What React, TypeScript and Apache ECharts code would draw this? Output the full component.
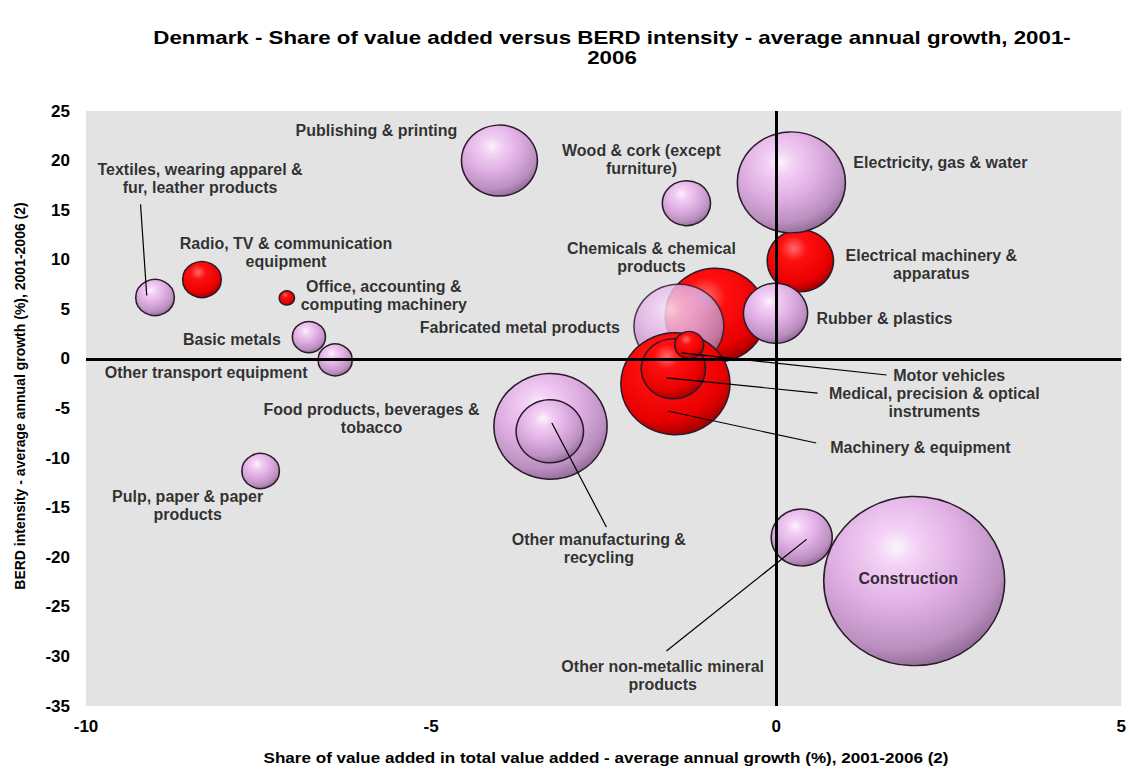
import React, { useEffect, useRef } from "react";
import * as echarts from "echarts";

// ---- Data (drawing order: later items drawn on top) ----
const sectors = [
  "Textiles, wearing apparel &\nfur, leather products",
  "Radio, TV & communication\nequipment",
  "Office, accounting &\ncomputing machinery",
  "Basic metals",
  "Other transport equipment",
  "Publishing & printing",
  "Wood & cork (except\nfurniture)",
  "Chemicals & chemical\nproducts",
  "Electrical machinery &\napparatus",
  "Electricity, gas & water",
  "Rubber & plastics",
  "Fabricated metal products",
  "Machinery & equipment",
  "Medical, precision & optical\ninstruments",
  "Motor vehicles",
  "Food products, beverages &\ntobacco",
  "Other manufacturing &\nrecycling",
  "Pulp, paper & paper\nproducts",
  "Other non-metallic mineral\nproducts",
  "Construction",
];
const valueAddedGrowth = [
  -9.0, -8.32, -7.09, -6.77, -6.39, -4.01, -1.3, -0.88, 0.35, 0.22,
  -0.01, -1.41, -1.46, -1.49, -1.26, -3.27, -3.28, -7.47, 0.37, 2.0,
];
const berdGrowth = [
  6.2, 8.0, 6.15, 2.2, -0.1, 20.0, 15.7, 4.4, 9.9, 17.8,
  4.6, 3.3, -2.5, -1.0, 1.4, -6.8, -7.3, -11.3, -18.0, -22.4,
];
const bubbleSizes = [
  13, 13, 2, 9.6, 10.2, 50.4, 20.3, 88.4, 38.4, 102,
  36, 70.6, 104, 36, 7.3, 112, 39.7, 12.3, 32.5, 286,
];
// "high" = high-technology groups shown in red, "other" in pink
const techGroup = [
  "other", "high", "high", "other", "other", "other", "other", "high", "high", "other",
  "other", "other", "high", "high", "high", "other", "other", "other", "other", "other",
];
const xTicks = [-10, -5, 0, 5];
const yTicks = [-35, -30, -25, -20, -15, -10, -5, 0, 5, 10, 15, 20, 25];

// leader lines: [from sector point area, to label] in data coordinates
const leaderLines: [number, number][][] = [
  [[-9.12, 6.4], [-9.21, 15.6]],
  [[-1.37, 0.6], [1.6, -1.62]],
  [[-1.59, -1.92], [0.6, -3.44]],
  [[-1.57, -5.25], [0.58, -8.48]],
  [[-3.25, -6.46], [-2.46, -16.95]],
  [[0.44, -18.2], [-1.59, -29.45]],
];

// ---- Layout (label offsets in px from the bubble centre) ----
const labelOffsets: [number, number][] = [
  [45, -119], [84, -27], [97, -2], [-77, 2], [-129, 13], [-123, -30], [-45, -44],
  [-64, -58], [131, 4], [149, -20], [109, 5], [-159, 1], [245, 64], [261, 34],
  [260, 30], [-179, -8], [49, 117], [-73, 35], [-139, 138], [-6, -3],
];
const ASPECT = 1.07; // bubbles are slightly wider than tall in the original

const FONT = "Arial, 'Liberation Sans', sans-serif";

const pinkFill = {
  type: "radial", x: 0.4, y: 0.3, r: 0.8, global: false,
  colorStops: [
    { offset: 0, color: "#fbf4fb" },
    { offset: 0.15, color: "#f3d0f5" },
    { offset: 0.45, color: "#dfaee3" },
    { offset: 0.75, color: "#bb8fc0" },
    { offset: 0.92, color: "#8d6792" },
    { offset: 1, color: "#4a344d" },
  ],
};
const redFill = {
  type: "radial", x: 0.4, y: 0.3, r: 0.8, global: false,
  colorStops: [
    { offset: 0, color: "#ff6a6a" },
    { offset: 0.25, color: "#ff1010" },
    { offset: 0.7, color: "#e80000" },
    { offset: 0.9, color: "#a00000" },
    { offset: 1, color: "#500000" },
  ],
};

export default function App() {
  const ref = useRef<HTMLDivElement>(null);
  useEffect(() => {
    if (!ref.current) return;
    const chart = echarts.init(ref.current, undefined, { renderer: "svg" });
    const bubbleData = sectors.map((name, i) => ({
      name,
      value: [valueAddedGrowth[i], berdGrowth[i], bubbleSizes[i]],
      itemStyle: {
        color: techGroup[i] === "high" ? redFill : pinkFill,
        opacity: name === "Fabricated metal products" ? 0.82 : 1,
      },
    }));
    const labelData = sectors.map((name, i) => ({
      name,
      value: [valueAddedGrowth[i], berdGrowth[i]],
      label: { offset: labelOffsets[i] },
    }));
    chart.setOption({
      animation: false,
      backgroundColor: "#ffffff",
      grid: {
        left: 86, right: 7, top: 111, bottom: 63,
        show: true, backgroundColor: "#e3e3e3", borderWidth: 0,
      },
      xAxis: {
        type: "value", min: xTicks[0], max: xTicks[xTicks.length - 1], interval: 5,
        axisLine: { show: false }, axisTick: { show: false }, splitLine: { show: false },
        axisLabel: { fontSize: 17, fontWeight: "bold", color: "#000", margin: 12, fontFamily: FONT },
      },
      yAxis: {
        type: "value", min: yTicks[0], max: yTicks[yTicks.length - 1], interval: 5,
        axisLine: { show: false }, axisTick: { show: false }, splitLine: { show: false },
        axisLabel: { fontSize: 17, fontWeight: "bold", color: "#000", margin: 16, fontFamily: FONT },
      },
      graphic: [
        {
          type: "text", x: 612, y: 48, z: 10, scaleX: 1.24,
          style: {
            text: "Denmark - Share of value added versus BERD intensity - average annual growth, 2001-\n2006",
            textAlign: "center", textVerticalAlign: "middle",
            font: `bold 18px ${FONT}`, lineHeight: 20, fill: "#000",
          },
        },
        {
          type: "text", x: 606, y: 758, z: 10, scaleX: 1.22,
          style: {
            text: "Share of value added in total value added - average annual growth (%), 2001-2006 (2)",
            textAlign: "center", textVerticalAlign: "middle",
            font: `bold 14px ${FONT}`, fill: "#000",
          },
        },
        {
          type: "text", x: 20, y: 396, rotation: Math.PI / 2, z: 10,
          style: {
            text: "BERD intensity - average annual growth (%), 2001-2006 (2)",
            textAlign: "center", textVerticalAlign: "middle",
            font: `bold 14px ${FONT}`, fill: "#000",
          },
        },
      ],
      series: [
        {
          type: "scatter", z: 1, symbolSize: 0, data: [[0, 0]], silent: true,
          markLine: {
            silent: true, symbol: ["none", "none"], label: { show: false },
            lineStyle: { color: "#000", width: 3, type: "solid" },
            data: [{ xAxis: 0 }, { yAxis: 0 }],
          },
        },
        {
          type: "scatter", z: 3,
          symbolSize: (v: number[]) => {
            const d = 10 * Math.sqrt(v[2]);
            return [d * ASPECT, d];
          },
          itemStyle: { borderColor: "#2a1a2a", borderWidth: 1.5 },
          data: bubbleData,
        },
        {
          type: "lines", coordinateSystem: "cartesian2d", z: 4, silent: true,
          lineStyle: { color: "#000", width: 1.2, opacity: 1 },
          data: leaderLines.map((c) => ({ coords: c })),
        },
        {
          type: "scatter", z: 5, symbolSize: 1, silent: true,
          itemStyle: { color: "rgba(0,0,0,0)" },
          label: {
            show: true, position: "inside", formatter: (p: any) => p.name,
            color: "#000", fontSize: 16, fontWeight: "bold", fontFamily: FONT,
            lineHeight: 18, align: "center", verticalAlign: "middle",
          },
          data: labelData,
        },
      ],
    });
    return () => chart.dispose();
  }, []);
  return (
    <div
      ref={ref}
      style={{ position: "absolute", left: 0, top: 0, width: 1129, height: 769 }}
    />
  );
}
